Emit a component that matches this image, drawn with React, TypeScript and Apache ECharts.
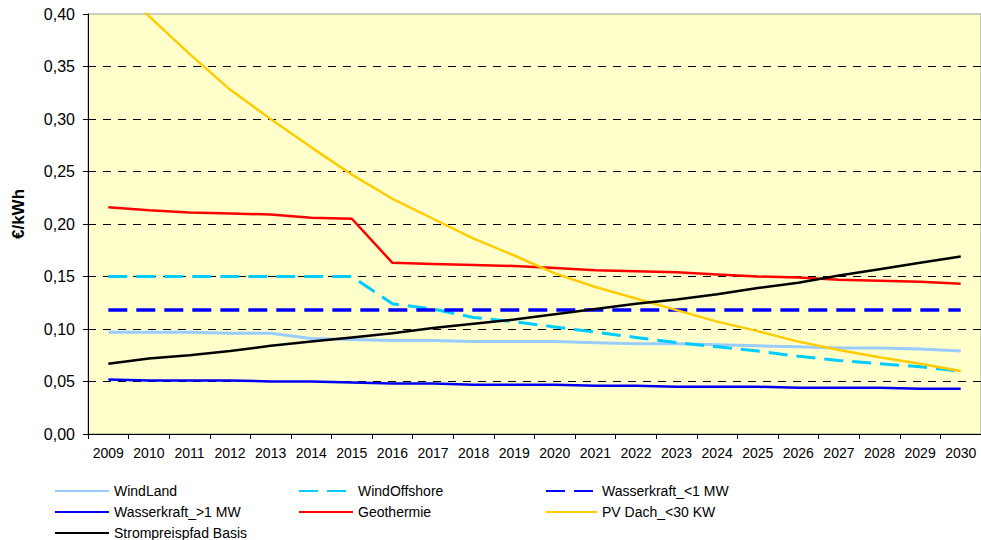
import React, { useEffect, useRef } from "react";
import * as echarts from "echarts";

const years = ["2009","2010","2011","2012","2013","2014","2015","2016","2017","2018","2019","2020","2021","2022","2023","2024","2025","2026","2027","2028","2029","2030"];

const windLand = [0.097,0.097,0.097,0.096,0.096,0.091,0.090,0.089,0.089,0.088,0.088,0.088,0.087,0.086,0.086,0.085,0.084,0.083,0.082,0.082,0.081,0.079];
const windOffshore = [0.150,0.150,0.150,0.150,0.150,0.150,0.150,0.124,0.119,0.111,0.107,0.102,0.097,0.092,0.087,0.083,0.079,0.074,0.070,0.067,0.064,0.060];
const wasserKlein = [0.118,0.118,0.118,0.118,0.118,0.118,0.118,0.118,0.118,0.118,0.118,0.118,0.118,0.118,0.118,0.118,0.118,0.118,0.118,0.118,0.118,0.118];
const wasserGross = [0.052,0.051,0.051,0.051,0.050,0.050,0.049,0.048,0.048,0.047,0.047,0.047,0.046,0.046,0.045,0.045,0.045,0.044,0.044,0.044,0.043,0.043];
const geothermie = [0.216,0.213,0.211,0.210,0.209,0.206,0.205,0.163,0.162,0.161,0.160,0.158,0.156,0.155,0.154,0.152,0.150,0.149,0.147,0.146,0.145,0.143];
const pvDach = [0.440,0.398,0.362,0.328,0.300,0.273,0.247,0.224,0.205,0.186,0.170,0.153,0.140,0.129,0.118,0.107,0.098,0.088,0.080,0.073,0.067,0.060];
const strompreis = [0.067,0.072,0.075,0.079,0.084,0.088,0.092,0.096,0.101,0.105,0.109,0.114,0.119,0.124,0.128,0.133,0.139,0.144,0.151,0.157,0.163,0.169];

const FONT = "'Liberation Sans', Arial, sans-serif";

export default function App() {
  const ref = useRef<HTMLDivElement>(null);
  useEffect(() => {
    if (!ref.current) return;
    const chart = echarts.init(ref.current, undefined, { renderer: "svg" });
    const mk = (name: string, data: number[], color: string, width: number, dashed: boolean) => ({
      name,
      type: "line",
      data,
      symbol: "none",
      showSymbol: false,
      lineStyle: { color, width, type: dashed ? [19, 9] : "solid", cap: "butt" },
      itemStyle: { color },
      emphasis: { disabled: true },
    });
    const splitColors = ["#000", "#000", "#000", "#000", "#000", "#000", "#000", "#000", "rgba(0,0,0,0)"];
    const legendBase = {
      top: 484,
      orient: "vertical",
      itemHeight: 14,
      itemGap: 7,
      height: 70,
      padding: 0,
      itemStyle: { opacity: 0 },
      textStyle: { color: "#000", fontSize: 14, fontFamily: FONT, lineHeight: 14 },
      selectedMode: false,
    };
    chart.setOption({
      animation: false,
      backgroundColor: "#ffffff",
      textStyle: { fontFamily: FONT },
      grid: {
        left: 88,
        top: 14,
        width: 896,
        height: 420,
        show: true,
        backgroundColor: "#FFFFCC",
        borderColor: "#999999",
        borderWidth: 1,
        containLabel: false,
      },
      xAxis: {
        type: "category",
        data: years,
        boundaryGap: true,
        axisLine: { lineStyle: { color: "#000", width: 1 } },
        axisTick: { show: true, interval: 0, length: 5, lineStyle: { color: "#000" } },
        axisLabel: { interval: 0, color: "#000", fontSize: 14, fontFamily: FONT, margin: 12 },
        splitLine: { show: false },
      },
      yAxis: {
        type: "value",
        min: 0,
        max: 0.4,
        interval: 0.05,
        axisLine: { show: true, lineStyle: { color: "#000", width: 1 } },
        axisTick: { show: true, length: 5, lineStyle: { color: "#000" } },
        axisLabel: {
          color: "#000",
          fontSize: 16,
          fontFamily: FONT,
          margin: 13,
          formatter: (v: number) => v.toFixed(2).replace(".", ","),
        },
        splitLine: { show: true, lineStyle: { color: splitColors, type: [8, 7], width: 1 } },
      },
      graphic: [
        {
          type: "text",
          x: 18,
          y: 214,
          rotation: Math.PI / 2,
          style: {
            text: "€/kWh",
            fill: "#000",
            font: "bold 17px " + FONT,
            align: "center",
            verticalAlign: "middle",
          },
        },
      ],
      legend: [
        {
          ...legendBase,
          left: 54,
          itemWidth: 54,
          data: ["WindLand", "Wasserkraft_>1 MW", "Strompreispfad Basis"],
        },
        {
          ...legendBase,
          left: 298,
          itemWidth: 54,
          data: ["WindOffshore", "Geothermie"],
        },
        {
          ...legendBase,
          left: 545,
          itemWidth: 51,
          data: ["Wasserkraft_<1 MW", "PV Dach_<30 KW"],
        },
      ],
      series: [
        mk("WindLand", windLand, "#99CCFF", 3, false),
        mk("WindOffshore", windOffshore, "#00CCFF", 3, true),
        mk("Wasserkraft_<1 MW", wasserKlein, "#0000FF", 3.5, true),
        mk("Wasserkraft_>1 MW", wasserGross, "#0000EE", 2.5, false),
        mk("Geothermie", geothermie, "#FF0000", 2.5, false),
        mk("PV Dach_<30 KW", pvDach, "#FFCC00", 2.5, false),
        mk("Strompreispfad Basis", strompreis, "#000000", 2.5, false),
      ],
    });
    return () => chart.dispose();
  }, []);
  return (
    <div
      ref={ref}
      style={{ position: "absolute", left: 0, top: 0, width: 981, height: 540, background: "#fff" }}
    />
  );
}
